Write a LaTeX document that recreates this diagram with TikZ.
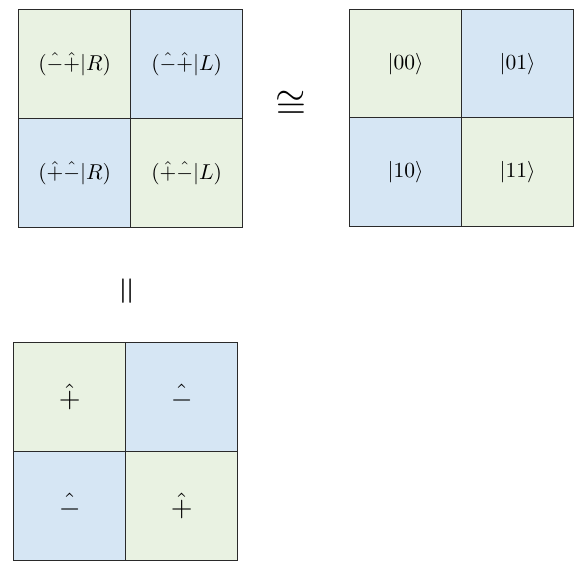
\documentclass[tikz,border=0pt]{standalone}
\usepackage{amsmath,amssymb}
\usepackage{graphicx}
\definecolor{cgreen}{HTML}{E9F2E2}
\definecolor{cblue}{HTML}{D6E6F4}
\definecolor{cline}{HTML}{2A2A2A}
\newcommand{\cellt}[1]{\scalebox{2.15}{$#1$}}
\newcommand{\bigt}[1]{\scalebox{2.8}{$#1$}}
\tikzset{
  cell/.style={draw=cline, line width=1.3pt, minimum width=112pt, minimum height=109pt, inner sep=0pt, anchor=north west},
  gcell/.style={cell, fill=cgreen},
  bcell/.style={cell, fill=cblue},
  relsym/.style={inner sep=0pt}
}
\begin{document}
\begin{tikzpicture}[x=1pt,y=-1pt]
\useasboundingbox (0,0) rectangle (574,561);
% box 1
\node[gcell] (a11) at (18,9) {\cellt{(\hat{-}\hat{+}|R)}};
\node[bcell] (a12) at (130,9) {\cellt{(\hat{-}\hat{+}|L)}};
\node[bcell] (a21) at (18,118) {\cellt{(\hat{+}\hat{-}|R)}};
\node[gcell] (a22) at (130,118) {\cellt{(\hat{+}\hat{-}|L)}};
% box 2
\node[gcell] (b11) at (349,9) {\cellt{|00\rangle}};
\node[bcell] (b12) at (461,9) {\cellt{|01\rangle}};
\node[bcell] (b21) at (349,117) {\cellt{|10\rangle}};
\node[gcell] (b22) at (461,117) {\cellt{|11\rangle}};
% box 3
\node[gcell] (c11) at (13,342) {\bigt{\hat{+}}};
\node[bcell] (c12) at (125,342) {\bigt{\hat{-}}};
\node[bcell] (c21) at (13,451) {\bigt{\hat{-}}};
\node[gcell] (c22) at (125,451) {\bigt{\hat{+}}};
% relations
\node[relsym] (cong) at (291,105) {\scalebox{3.9}{$\cong$}};
\node[relsym, rotate=90] (eq) at (129,291) {\scalebox{3.7}{$=$}};
\end{tikzpicture}
\end{document}
